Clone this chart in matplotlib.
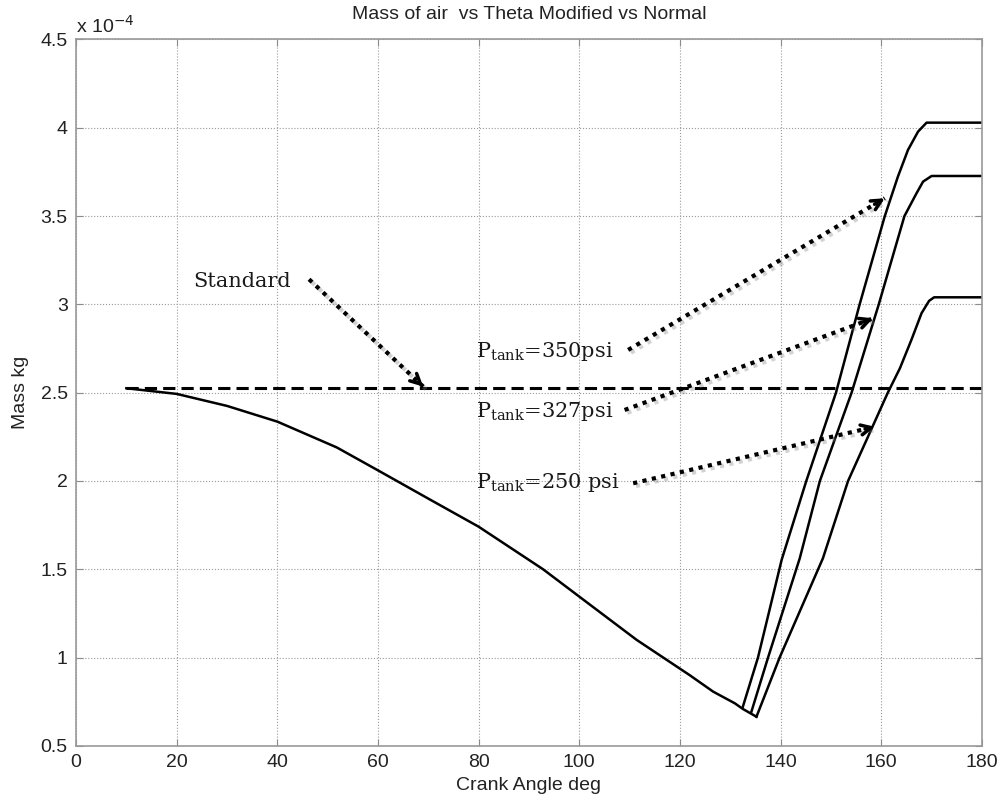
import numpy as np
import matplotlib
matplotlib.use("Agg")
import matplotlib.pyplot as plt
import matplotlib.patheffects as pe

# massa de ar (x 1e-4 kg) vs angulo de manivela
theta_padrao = [10, 180]
massa_padrao = [2.525, 2.525]

theta_desc = [10, 20, 30, 40, 51.8, 60, 70, 80, 92.8, 100, 111.4, 121.9, 126.6, 130.9, 132.5, 135.2]
massa_desc = [2.525, 2.493, 2.425, 2.336, 2.19, 2.06, 1.90, 1.741, 1.5, 1.345, 1.10, 0.901, 0.807, 0.741, 0.709, 0.665]

theta_350 = [132.5, 135.5, 140.2, 145.1, 151.0, 155.7, 160.7, 163.3, 165.3, 167.3, 169.0, 180]
massa_350 = [0.722, 1.0, 1.553, 2.0, 2.5, 3.0, 3.5, 3.723, 3.874, 3.978, 4.029, 4.029]

theta_327 = [134.2, 137.5, 143.8, 147.8, 154.1, 159.5, 164.6, 167.0, 168.3, 170.0, 180]
massa_327 = [0.694, 1.0, 1.562, 2.0, 2.5, 3.0, 3.5, 3.629, 3.695, 3.727, 3.727]

theta_250 = [135.2, 139.8, 148.4, 153.4, 161.3, 163.7, 166.0, 168.0, 169.5, 170.5, 180]
massa_250 = [0.665, 1.0, 1.562, 2.0, 2.5, 2.638, 2.80, 2.95, 3.02, 3.04, 3.04]

# anotacoes: texto, posicao do texto, inicio e ponta da seta
rotulos = ["Standard", r"P$_{\rm tank}$=350psi", r"P$_{\rm tank}$=327psi", r"P$_{\rm tank}$=250 psi"]
pos_rotulos = [(23.2, 3.10), (79.4, 2.70), (79.4, 2.364), (79.4, 1.959)]
seta_inicio = [(46.3, 3.142), (109.7, 2.742), (109.0, 2.402), (110.7, 1.987)]
seta_ponta = [(69.0, 2.534), (160.7, 3.601), (158.4, 2.921), (158.7, 2.307)]

plt.rcParams['font.family'] = ['Liberation Sans', 'DejaVu Sans']
plt.rcParams['mathtext.fontset'] = 'dejavuserif'

fig = plt.figure(figsize=(10.03, 7.99), dpi=100)
ax = fig.add_axes([0.0758, 0.0665, 0.9032, 0.8841])

cor_linha = "black"
ax.plot(theta_padrao, massa_padrao, color=cor_linha, linestyle=(0, (4, 2)), linewidth=2.2)
ax.plot(theta_desc, massa_desc, color=cor_linha, linewidth=1.8)
ax.plot(theta_350, massa_350, color=cor_linha, linewidth=1.8)
ax.plot(theta_327, massa_327, color=cor_linha, linewidth=1.8)
ax.plot(theta_250, massa_250, color=cor_linha, linewidth=1.8)

ax.set_xlim(0, 180)
ax.set_ylim(0.5, 4.5)
ax.set_xticks(np.arange(0, 181, 20))
ax.set_yticks(np.arange(0.5, 4.51, 0.5))
ax.set_yticklabels([f"{v:g}" for v in np.arange(0.5, 4.51, 0.5)])

ax.grid(True, linestyle=":", color="#9a9a9a", linewidth=0.8)
for s in ax.spines.values():
    s.set_color("#999999")
    s.set_linewidth(1.2)
ax.tick_params(direction="in", length=5, width=0.8, color="#8c8c8c",
               top=True, right=True, labelsize=14, labelcolor="#222222", pad=6)

ax.set_title("Mass of air  vs Theta Modified vs Normal", fontsize=14, color="#222222", pad=15)
ax.set_xlabel("Crank Angle deg", fontsize=14, color="#222222", labelpad=4)
ax.set_ylabel("Mass kg", fontsize=14, color="#222222", labelpad=8)
ax.text(0.0, 1.004, r"x 10$^{\mathsf{-4}}$", transform=ax.transAxes, fontsize=14,
        color="#222222", ha="left", va="bottom", family="Liberation Sans")

sombra = [pe.SimpleLineShadow(offset=(2, -2), shadow_color="gray", alpha=0.35), pe.Normal()]

for txt, (tx, ty), (x0, y0), (x1, y1) in zip(rotulos, pos_rotulos, seta_inicio, seta_ponta):
    ax.text(tx, ty, txt, fontsize=15, family="DejaVu Serif", color="#1a1a1a",
            ha="left", va="baseline")
    ax.plot([x0, x1], [y0, y1], color="black", linewidth=3.0,
            linestyle=(0, (1, 1.3)), solid_capstyle="butt", dash_capstyle="butt",
            path_effects=sombra)
    xb = x0 + 0.96 * (x1 - x0)
    yb = y0 + 0.96 * (y1 - y0)
    ax.annotate("", xy=(x1, y1), xytext=(xb, yb),
                arrowprops=dict(arrowstyle="->", color="black", lw=2.5,
                                mutation_scale=18, shrinkA=0, shrinkB=0))

fig.savefig("out.png", dpi=100)
